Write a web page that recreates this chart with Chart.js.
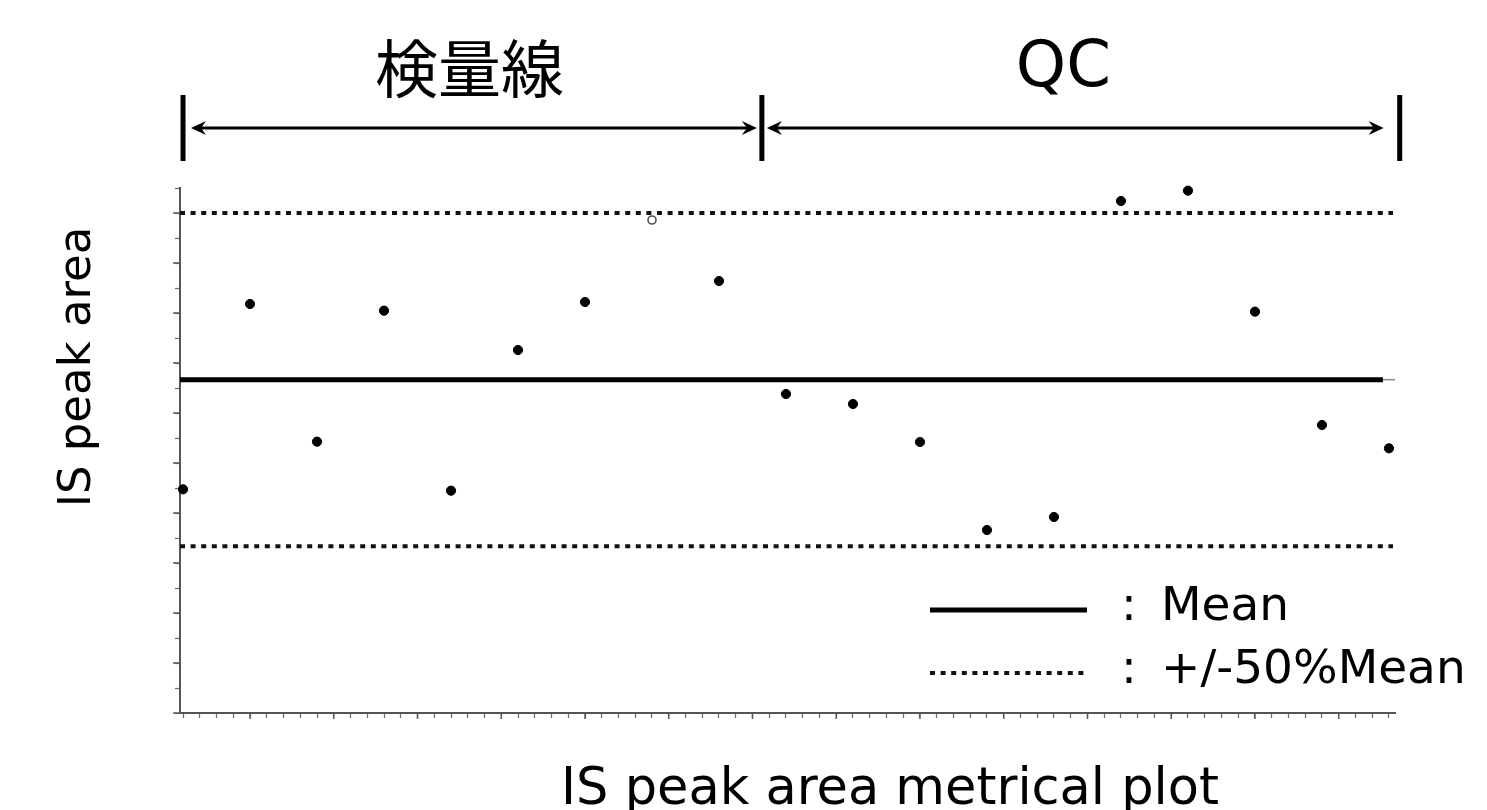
<!DOCTYPE html>
<html lang="ja">
<head>
<meta charset="utf-8">
<title>IS peak area metrical plot</title>
<script src="https://cdn.jsdelivr.net/npm/chart.js@4.4.1/dist/chart.umd.min.js"></script>
<style>
  html, body { margin: 0; padding: 0; background: #ffffff; }
  #wrap { width: 1487px; height: 810px; }
</style>
</head>
<body>
<div id="wrap"><canvas id="chart" width="1487" height="810"></canvas></div>
<script>
// Injection order of the runs
const injectionNo = [1, 2, 3, 4, 5, 6, 7, 8, 9, 10, 11, 12, 13, 14, 15, 16, 17, 18, 19];
// IS peak area of each run, in units where Mean = 100
const isPeakArea = [67.1, 122.7, 81.4, 120.7, 66.7, 108.9, 123.3, 147.9, 129.6,
                    95.7, 92.7, 81.3, 54.9, 58.8, 153.6, 156.7, 120.4, 86.4, 79.4];
// Runs drawn with a hollow marker
const hollowRuns = [8];
// Mean level and the +/- band around it
const meanArea = 100;
const limitRatio = 0.5;
// Run sections shown above the plot and where they start / end on the run axis
const sectionLabels = ['検量線', 'QC'];
const sectionBounds = [1.0, 9.64, 19.16];
// Legend entries
const legendLabels = ['Mean', '+/-50%Mean'];
// Axis titles
const xTitle = 'IS peak area metrical plot';
const yTitle = 'IS peak area';
// Axis extents and tick steps
const xRange = [0.955, 19.09];
const yRange = [0, 157.5];
const meanLineEnd = 18.91;
const xTickStep = 0.25;
const yTickStep = 7.5;

const LATIN = "'DejaVu Sans', Verdana, sans-serif";
const CJK = "'Noto Sans CJK JP', 'Noto Sans CJK SC', sans-serif";

const xTicks = [];
for (let v = 1; v <= 19.0001; v += xTickStep) xTicks.push(+v.toFixed(3));
const yTicks = [];
for (let v = yRange[0]; v <= yRange[1] + 1e-6; v += yTickStep) yTicks.push(+v.toFixed(3));

const upperLimit = meanArea * (1 + limitRatio);
const lowerLimit = meanArea * (1 - limitRatio);

const samplePoints = injectionNo.map((n, i) => ({ x: n, y: isPeakArea[i] }));
const isHollow = injectionNo.map(n => hollowRuns.includes(n));

const meanDataset = {
  label: 'Mean',
  data: [{ x: xRange[0], y: meanArea }, { x: meanLineEnd, y: meanArea }],
  showLine: true, borderColor: '#000000', borderWidth: 5, pointRadius: 0, order: 3
};
const upperDataset = {
  label: '+50% Mean',
  data: [{ x: xRange[0], y: upperLimit }, { x: xRange[1] - 0.03, y: upperLimit }],
  showLine: true, borderColor: '#111111', borderWidth: 4, borderDash: [5, 5.6],
  pointRadius: 0, order: 2
};
const lowerDataset = {
  label: '-50% Mean',
  data: [{ x: xRange[0], y: lowerLimit }, { x: xRange[1] - 0.03, y: lowerLimit }],
  showLine: true, borderColor: '#111111', borderWidth: 4, borderDash: [5, 5.6],
  pointRadius: 0, order: 2
};
const sampleDataset = {
  label: 'IS peak area',
  data: samplePoints,
  showLine: false,
  pointRadius: isHollow.map(h => h ? 4 : 4.6),
  pointBackgroundColor: isHollow.map(h => h ? '#ffffff' : '#000000'),
  pointBorderColor: isHollow.map(h => h ? '#555555' : '#000000'),
  pointBorderWidth: isHollow.map(h => h ? 1.6 : 1),
  clip: false,
  order: 0
};

function strokeLine(ctx, x1, y1, x2, y2) {
  ctx.beginPath(); ctx.moveTo(x1, y1); ctx.lineTo(x2, y2); ctx.stroke();
}

function arrowHead(ctx, x, y, dir) {
  ctx.beginPath();
  ctx.moveTo(x, y);
  ctx.lineTo(x - dir * 15, y - 7);
  ctx.lineTo(x - dir * 10, y);
  ctx.lineTo(x - dir * 15, y + 7);
  ctx.closePath();
  ctx.fill();
}

// Section brackets, longer major ticks, legend and axis titles
const overlayPlugin = {
  id: 'overlay',
  afterDraw(chart) {
    const { ctx, chartArea: ca, scales } = chart;
    const xs = scales.x, ys = scales.y;
    ctx.save();

    // longer marks on every major tick
    ctx.strokeStyle = '#5a5a5a';
    ctx.lineWidth = 1.5;
    xTicks.forEach((v, i) => {
      if (i % 5 === 4) { const px = xs.getPixelForValue(v); strokeLine(ctx, px, ca.bottom, px, ca.bottom + 6); }
    });
    yTicks.forEach((v, i) => {
      if (i % 2 === 0) { const py = ys.getPixelForValue(v); strokeLine(ctx, ca.left - 7, py, ca.left, py); }
    });

    // short grey stub where the mean line meets the right edge
    const my = ys.getPixelForValue(meanArea);
    ctx.strokeStyle = '#8a8a8a';
    ctx.lineWidth = 1.5;
    strokeLine(ctx, xs.getPixelForValue(meanLineEnd), my, ca.right, my);

    // section bars, arrows and labels
    const barTop = ca.top - 93, barBottom = ca.top - 27, arrowY = ca.top - 60;
    const bx = sectionBounds.map(v => xs.getPixelForValue(v));
    ctx.strokeStyle = '#000000';
    ctx.fillStyle = '#000000';
    ctx.lineWidth = 5;
    bx.forEach(px => strokeLine(ctx, px, barTop, px, barBottom));

    const spans = [[bx[0] + 8, bx[1] - 5], [bx[1] + 5, bx[2] - 16]];
    ctx.lineWidth = 2.8;
    spans.forEach(([a, b]) => {
      strokeLine(ctx, a + 8, arrowY, b - 8, arrowY);
      arrowHead(ctx, a, arrowY, -1);
      arrowHead(ctx, b, arrowY, 1);
    });

    ctx.textAlign = 'center';
    ctx.textBaseline = 'middle';
    ctx.font = '63px ' + CJK;
    ctx.fillText(sectionLabels[0], (bx[0] + bx[1]) / 2 - 3, ca.top - 120);
    ctx.font = '64px ' + LATIN;
    ctx.fillText(sectionLabels[1], (spans[1][0] + spans[1][1]) / 2 - 12, ca.top - 119);

    // legend
    const lx1 = ca.right - 465, lx2 = ca.right - 308;
    const ly1 = ca.bottom - 103, ly2 = ca.bottom - 40;
    ctx.strokeStyle = meanDataset.borderColor;
    ctx.lineWidth = meanDataset.borderWidth;
    strokeLine(ctx, lx1, ly1, lx2, ly1);
    ctx.strokeStyle = upperDataset.borderColor;
    ctx.lineWidth = upperDataset.borderWidth;
    ctx.setLineDash(upperDataset.borderDash);
    strokeLine(ctx, lx1, ly2, lx2 - 2, ly2);
    ctx.setLineDash([]);
    ctx.textAlign = 'left';
    ctx.font = '47px ' + LATIN;
    [ly1, ly2].forEach((ly, i) => {
      ctx.fillText(':', ca.right - 274, ly - 2);
      ctx.fillText(legendLabels[i], ca.right - 234, ly - 2);
    });

    // axis titles
    ctx.textAlign = 'center';
    ctx.font = '51px ' + LATIN;
    ctx.fillText(xTitle, 890, ca.bottom + 78);
    ctx.save();
    ctx.translate(78, 367);
    ctx.rotate(-Math.PI / 2);
    ctx.font = '45px ' + LATIN;
    ctx.fillText(yTitle, 0, 0);
    ctx.restore();

    ctx.restore();
  }
};

new Chart(document.getElementById('chart'), {
  type: 'scatter',
  data: { datasets: [sampleDataset, meanDataset, upperDataset, lowerDataset] },
  options: {
    responsive: false,
    animation: false,
    events: [],
    layout: { padding: { left: 175, right: 92, top: 188, bottom: 92 } },
    plugins: { legend: { display: false }, tooltip: { enabled: false } },
    scales: {
      x: {
        type: 'linear',
        min: xRange[0], max: xRange[1],
        afterBuildTicks: axis => { axis.ticks = xTicks.map(v => ({ value: v })); },
        ticks: { display: false },
        grid: { display: true, drawOnChartArea: false, drawTicks: true, tickLength: 5, tickColor: '#6a6a6a', tickWidth: 1.2 },
        border: { display: true, color: '#555555', width: 2 }
      },
      y: {
        type: 'linear',
        min: yRange[0], max: yRange[1],
        afterBuildTicks: axis => { axis.ticks = yTicks.map(v => ({ value: v })); },
        ticks: { display: false },
        grid: { display: true, drawOnChartArea: false, drawTicks: true, tickLength: 5, tickColor: '#6a6a6a', tickWidth: 1.2 },
        border: { display: true, color: '#555555', width: 2 }
      }
    }
  },
  plugins: [overlayPlugin]
});
</script>
</body>
</html>
